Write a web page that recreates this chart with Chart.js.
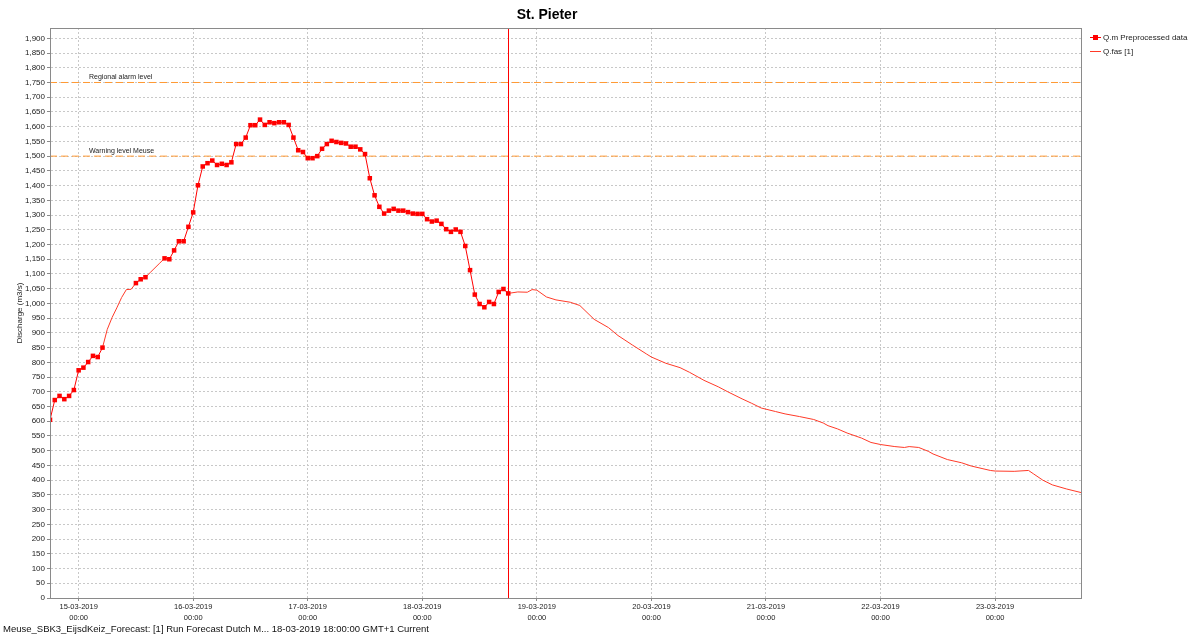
<!DOCTYPE html>
<html>
<head>
<meta charset="utf-8">
<title>St. Pieter</title>
<script src="https://cdn.jsdelivr.net/npm/chart.js@4.4.1/dist/chart.umd.min.js"></script>
<style>
    body { margin: 0; background: #fff; font-family: 'Liberation Sans', Arial, sans-serif; }
    #wrap { position: relative; width: 1192px; height: 640px; overflow: hidden; }
    #chart { position: absolute; left: 0; top: 0; }
    #title { position: absolute; left: 447px; top: 6px; width: 200px; text-align: center; font-weight: bold; font-size: 14px; color: #000; }
    .leg { position: absolute; left: 1090px; font-size: 8px; color: #222; white-space: nowrap; line-height: 10px; }
    .leg .sym { position: relative; display: inline-block; width: 11px; height: 10px; margin-right: 2px; vertical-align: top; }
    .leg .ln { position: absolute; display: block; left: 0; top: 4px; width: 11px; height: 1px; }
    .leg .sq { position: absolute; display: block; left: 3px; top: 2px; width: 5px; height: 5px; background: #ff0000; }
    #status { position: absolute; left: 3px; top: 623px; font-size: 9.5px; color: #111; white-space: nowrap; }
</style>
</head>
<body>
<div id="wrap">
    <canvas id="chart" width="1192" height="640"></canvas>
    <div id="title">St. Pieter</div>
    <div class="leg" style="top:33px"><span class="sym"><i class="ln" style="background:#ff0000"></i><i class="sq"></i></span>Q.m Preprocessed data</div>
    <div class="leg" style="top:47px"><span class="sym"><i class="ln" style="background:#ff3a28"></i></span>Q.fas [1]</div>
    <div id="status">Meuse_SBK3_EijsdKeiz_Forecast: [1] Run Forecast Dutch M... 18-03-2019 18:00:00 GMT+1 Current</div>
</div>
<script>
    // x values are hours since 14-03-2019 18:00
    const hourMax = 216;
    const forecastT0 = 96;

    const dayTickHours = [6, 30, 54, 78, 102, 126, 150, 174, 198];
    const dayLabels = ['15-03-2019', '16-03-2019', '17-03-2019', '18-03-2019', '19-03-2019',
        '20-03-2019', '21-03-2019', '22-03-2019', '23-03-2019'];

    // Q.m Preprocessed data, hourly from hour 0, null = missing
    const obsValues = [
        605, 672, 686, 675, 686, 706, 773, 782, 801, 822, 818, 850,
        null, null, null, null, null, null,
        1069, 1082, 1089, null, null, null,
        1153, 1150, 1180, 1211, 1211, 1260, 1309, 1401, 1465, 1476, 1485, 1470,
        1474, 1470, 1479, 1541, 1541, 1563, 1605, 1605, 1624, 1606, 1615, 1612,
        1615, 1615, 1606, 1563, 1520, 1514, 1493, 1493, 1500, 1525, 1541, 1552,
        1548, 1545, 1543, 1532, 1532, 1523, 1507, 1425, 1367, 1328, 1305, 1315,
        1321, 1315, 1315, 1310, 1305, 1304, 1304, 1286, 1278, 1281, 1270, 1252,
        1243, 1251, 1243, 1195, 1113, 1030, 998, 987, 1005, 998, 1039, 1049,
        1034
    ];

    // Q.fas [1] (only the parts not hidden under Q.m), null = break
    const qfasHours = [11, 12, 13, 14, 15, 16, 17, 18, 19, 20, 21, 22, 23, 24, 60,
        96, 98, 100, 101, 102, 104, 106, 109, 111, 114, 117, 119, 122, 125, 126,
        129, 132, 134, 137, 140, 142, 145, 147, 149, 152, 154, 157, 160, 162, 163,
        165, 167, 170, 172, 174, 177, 179, 180, 182, 184, 185, 188, 191, 193, 197,
        198, 202, 205, 206, 208, 210, 213, 216];
    const qfasValues = [850, 912, 952, 985, 1020, 1047, 1048, 1069, null, 1089, 1105, 1121, 1137, 1153, null,
        1034, 1039, 1038, 1047, 1045, 1022, 1012, 1004, 993, 946, 918, 891, 859, 828, 818,
        797, 782, 766, 739, 717, 700, 676, 661, 645, 633, 625, 616, 606, 594, 585,
        574, 560, 543, 528, 521, 514, 511, 514, 511, 498, 489, 470, 459, 448, 433,
        431, 430, 433, 422, 400, 384, 370, 358];

    const levelNames = ['Regional alarm level', 'Warning level Meuse'];
    const levelValues = [1750, 1500];

    const fontFamily = "'Liberation Sans', Arial, sans-serif";
    const gridColor = '#c8c8c8';
    const axisColor = '#8a8a8a';

    const obsPoints = obsValues.map((v, i) => ({x: i, y: v}));
    const qfasPoints = qfasHours.map((h, i) => ({x: h, y: qfasValues[i]}));

    const levelSets = levelValues.map((v, i) => ({
        label: levelNames[i],
        data: [{x: 0, y: v}, {x: hourMax, y: v}],
        borderColor: '#ff9933',
        borderWidth: 1,
        borderDash: [7, 4],
        pointRadius: 0
    }));

    const fmt = v => String(v).replace(/\B(?=(\d{3})+(?!\d))/g, ',');

    // threshold labels, T0 line and the plot frame
    const overlay = {
        id: 'overlay',
        beforeDatasetsDraw(chart) {
            const {ctx, chartArea, scales} = chart;
            ctx.save();
            ctx.fillStyle = '#222';
            ctx.font = '7px ' + fontFamily;
            ctx.textBaseline = 'alphabetic';
            levelValues.forEach((v, i) => {
                ctx.fillText(levelNames[i], chartArea.left + 39, scales.y.getPixelForValue(v) - 3);
            });
            ctx.restore();
        },
        afterDatasetsDraw(chart) {
            const {ctx, chartArea, scales} = chart;
            ctx.save();
            let x = Math.round(scales.x.getPixelForValue(forecastT0)) + 0.5;
            ctx.strokeStyle = '#ff0000';
            ctx.lineWidth = 1;
            ctx.beginPath();
            ctx.moveTo(x, chartArea.top);
            ctx.lineTo(x, chartArea.bottom);
            ctx.stroke();
            ctx.strokeStyle = axisColor;
            ctx.strokeRect(Math.round(chartArea.left) + 0.5, Math.round(chartArea.top) + 0.5,
                Math.round(chartArea.width), Math.round(chartArea.height));
            ctx.restore();
        }
    };

    var ctx = document.getElementById('chart').getContext('2d');
    var chart = new Chart(ctx, {
        type: 'line',
        data: {
            datasets: [{
                label: 'Q.m Preprocessed data',
                data: obsPoints,
                borderColor: '#ff0000',
                backgroundColor: '#ff0000',
                borderWidth: 1,
                pointStyle: 'rect',
                pointRadius: 3.2,
                pointBorderWidth: 0,
                spanGaps: false
            }, {
                label: 'Q.fas [1]',
                data: qfasPoints,
                borderColor: '#ff3a28',
                borderWidth: 1,
                pointRadius: 0,
                spanGaps: false
            }, ...levelSets]
        },
        options: {
            responsive: false,
            animation: false,
            devicePixelRatio: 1,
            layout: {padding: {left: 0, top: 28, right: 111, bottom: 16}},
            plugins: {
                legend: {display: false},
                title: {display: false},
                tooltip: {enabled: false}
            },
            scales: {
                x: {
                    type: 'linear',
                    min: 0,
                    max: hourMax,
                    afterBuildTicks: s => { s.ticks = dayTickHours.map(v => ({value: v})); },
                    afterFit: s => { s.height = 26; },
                    grid: {color: gridColor, tickLength: 3, tickColor: axisColor},
                    border: {color: axisColor, dash: [2, 2]},
                    ticks: {
                        autoSkip: false,
                        maxRotation: 0,
                        padding: 1,
                        color: '#222',
                        font: {family: fontFamily, size: 7.5, lineHeight: 1.4},
                        callback: v => [dayLabels[dayTickHours.indexOf(v)], '00:00']
                    }
                },
                y: {
                    min: 0,
                    max: 1935,
                    afterBuildTicks: s => { s.ticks = s.ticks.filter(t => t.value <= 1900); },
                    afterFit: s => { s.width = 50; },
                    grid: {color: gridColor, tickLength: 3, tickColor: axisColor},
                    border: {color: axisColor, dash: [2, 2]},
                    title: {
                        display: true,
                        text: 'Discharge (m3/s)',
                        color: '#222',
                        font: {family: fontFamily, size: 8},
                        padding: {top: 15, bottom: 0}
                    },
                    ticks: {
                        stepSize: 50,
                        autoSkip: false,
                        padding: 2,
                        color: '#222',
                        font: {family: fontFamily, size: 8},
                        callback: v => fmt(v)
                    }
                }
            }
        },
        plugins: [overlay]
    });
</script>
</body>
</html>
